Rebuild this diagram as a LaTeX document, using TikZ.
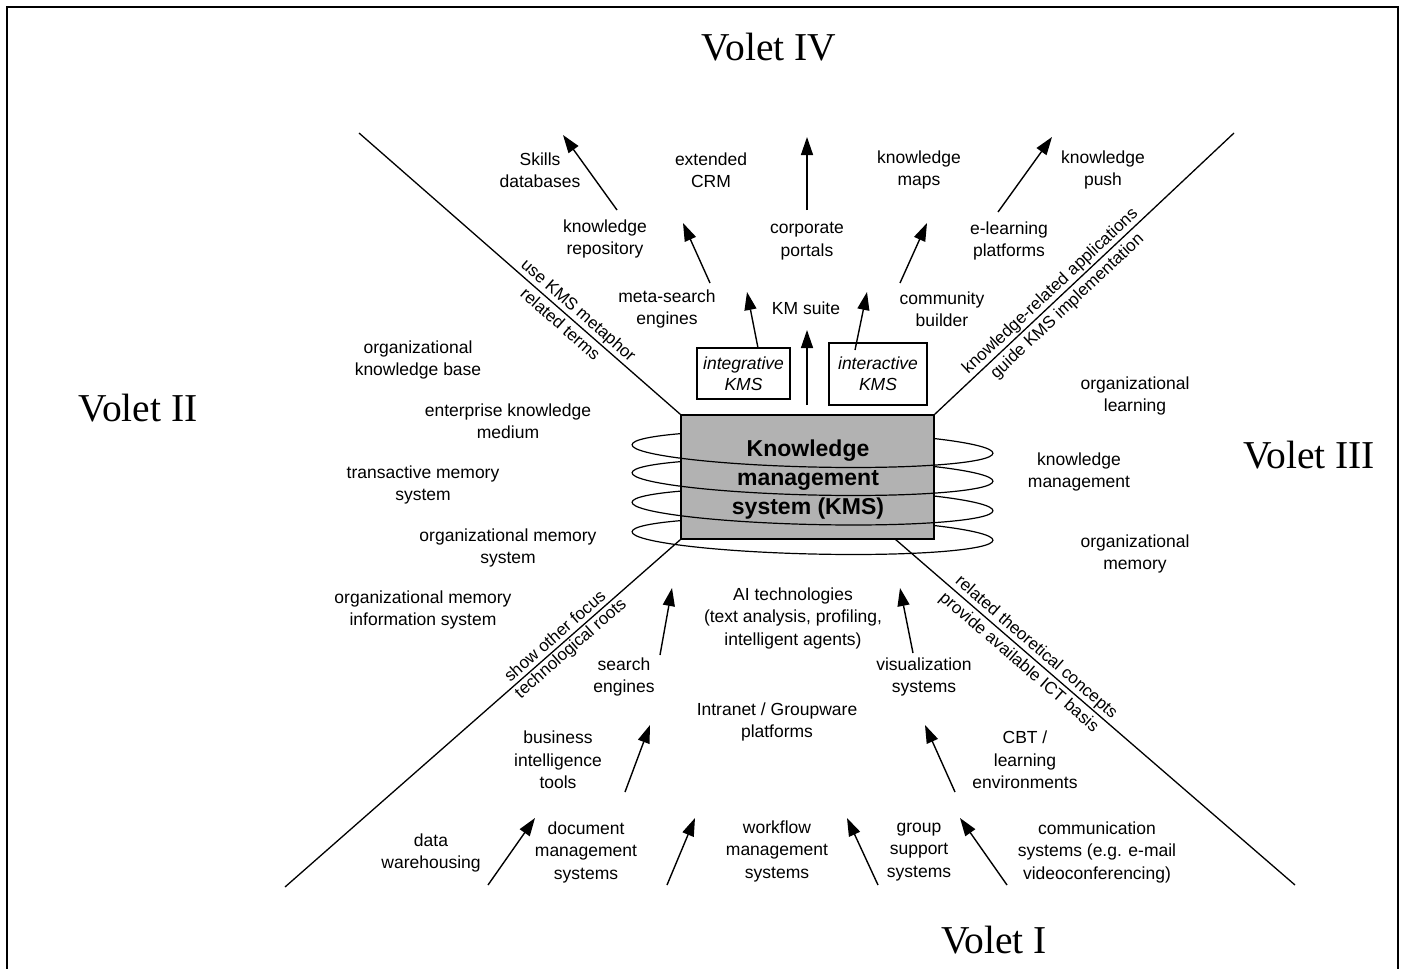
\documentclass[tikz,border=0pt]{standalone}
\usepackage{fontspec}
\setmainfont{Liberation Sans}
\newfontfamily\voletfont{Liberation Serif}
\usetikzlibrary{arrows.meta}
\begin{document}
\begin{tikzpicture}[x=1pt,y=-1pt,
  lbl/.style={font=\fontsize{17.5}{22.5}\selectfont, align=center, inner sep=0pt},
  volet/.style={font=\voletfont\fontsize{39.5}{44}\selectfont, inner sep=0pt},
  axisline/.style={line width=1.3pt},
  axislbl/.style={font=\fontsize{17}{20}\selectfont, sloped, inner sep=1.5pt},
  axislblb/.style={axislbl, inner sep=4pt},
  flow/.style={line width=1.4pt, -{Triangle[length=18pt,width=12pt]}},
  kmsbox/.style={draw, line width=1.4pt, font=\itshape\fontsize{17.5}{21}\selectfont,
    align=center, inner sep=0pt},
  kmsmain/.style={draw, line width=1.4pt, fill=black!30,
    minimum width=253pt, minimum height=124pt, inner sep=0pt},
  kmstext/.style={align=center, font=\bfseries\fontsize{23}{29}\selectfont, inner sep=0pt},
  coil/.style={line width=1.2pt},
]
\useasboundingbox (0,0) rectangle (1403,969);

% open frame
\coordinate (fbl) at (7,975);
\coordinate (ftl) at (7,7);
\coordinate (ftr) at (1398,7);
\coordinate (fbr) at (1398,975);
\draw[line width=2.6pt] (fbl) -- (ftl) -- (ftr) -- (fbr);

% the four quadrant titles
\node[volet] (v4) at (769,47) {Volet IV};
\node[volet] (v2) at (138,408) {Volet II};
\node[volet] (v3) at (1309,455) {Volet III};
\node[volet] (v1) at (994,940) {Volet I};

% coil loops (back parts are later hidden by the box)
\foreach \cy in {449,477,506.5,536} {
  \draw[coil, rotate around={-1.35:(812.5,\cy)}] (812.5,\cy) ellipse [x radius=180.5, y radius=18];
}

% central system
\node[kmsmain] (kms) at (807.5,477) {};
\node[kmstext] (kmstxt) at (808,480) {Knowledge\\management\\system (KMS)};

% front parts of the loops, drawn over the box
\begin{scope}
  \clip (kms.south west) rectangle (kms.north east);
  \foreach \cy in {449,477,506.5,536} {
    \begin{scope}[rotate around={-1.35:(812.5,\cy)}]
      \clip (600,\cy) rectangle (1020,\cy+40);
      \draw[coil] (812.5,\cy) ellipse [x radius=180.5, y radius=18];
    \end{scope}
  }
\end{scope}

% diagonal separators with their captions
\coordinate (ulEnd) at (359,133);
\coordinate (urEnd) at (1234,133);
\coordinate (llEnd) at (285,887);
\coordinate (lrEnd) at (1295,885);
\coordinate (lrStart) at (895,539);

\draw[axisline] (ulEnd) -- (kms.north west)
  node[axislbl, above, pos=0.66] (ulA) {use KMS metaphor}
  node[axislblb, below, pos=0.65] (ulB) {related terms};
\draw[axisline] (kms.north east) -- (urEnd)
  node[axislbl, above, pos=0.41] (urA) {knowledge-related applications}
  node[axislblb, below, pos=0.415] (urB) {guide KMS implementation};
\draw[axisline] (llEnd) -- (kms.south west)
  node[axislblb, above, pos=0.70] (llA) {show other focus}
  node[axislbl, below, pos=0.707] (llB) {technological roots};
\draw[axisline] (lrStart) -- (lrEnd)
  node[axislbl, above, pos=0.336] (lrA) {related theoretical concepts}
  node[axislblb, below, pos=0.33] (lrB) {provide available ICT basis};

% upper part: applications
\node[lbl] (sk) at (540,170) {Skills\\databases};
\node[lbl] (crm) at (711,170) {extended\\CRM};
\node[lbl] (kmap) at (919,170) {knowledge\\maps};
\node[lbl] (kpush) at (1103,170) {knowledge\\push};
\node[lbl] (krep) at (605,239) {knowledge\\repository};
\node[lbl] (cport) at (807,241) {corporate\\portals};
\node[lbl] (elearn) at (1009,241) {e-learning\\platforms};
\node[lbl] (msearch) at (667,309) {meta-search\\engines};
\node[lbl] (kmsuite) at (806,308) {KM suite};
\node[lbl] (commb) at (942,309) {community\\builder};
\node[kmsbox, minimum width=93pt, minimum height=51pt] (integ) at (743.5,373.5) {integrative\\KMS};
\node[kmsbox, minimum width=98pt, minimum height=62pt] (inter) at (878,374) {interactive\\KMS};

% left part: related terms
\node[lbl] (okb) at (418,360) {organizational\\knowledge base};
\node[lbl] (ekm) at (508,421) {enterprise knowledge\\medium};
\node[lbl] (tms) at (423,485) {transactive memory\\system};
\node[lbl] (oms) at (508,548) {organizational memory\\system};
\node[lbl] (omis) at (423,610) {organizational memory\\information system};

% right part: theoretical concepts
\node[lbl] (ol) at (1135,396) {organizational\\learning};
\node[lbl] (km) at (1079,472) {knowledge\\management};
\node[lbl] (om) at (1135,554) {organizational\\memory};

% lower part: technological roots
\node[lbl] (ai) at (793,618) {AI technologies\\(text analysis, profiling,\\intelligent agents)};
\node[lbl] (vis) at (924,677) {visualization\\systems};
\node[lbl] (intra) at (777,722) {Intranet / Groupware\\platforms};
\node[lbl] (cbt) at (1025,760) {CBT /\\learning\\environments};
\node[lbl] (wf) at (777,851) {workflow\\management\\systems};
\node[lbl] (gss) at (919,852) {group\\support\\systems};
\node[lbl] (comm) at (1097,852) {communication\\systems (e.g. e-mail\\videoconferencing)};
\node[lbl] (se) at (624,677) {search\\engines};
\node[lbl] (bi) at (558,760) {business\\intelligence\\tools};
\node[lbl] (dw) at (431,853) {data\\warehousing};
\node[lbl] (dms) at (586,852) {document\\management\\systems};

% arrow end points
\coordinate (t1) at (617,210);  \coordinate (h1) at (563,135);
\coordinate (t2) at (710,283);  \coordinate (h2) at (683,223);
\coordinate (t3) at (807,210);  \coordinate (h3) at (807,137);
\coordinate (t4) at (900,283);  \coordinate (h4) at (927,223);
\coordinate (t5) at (998,212);  \coordinate (h5) at (1052,137);
\coordinate (t6) at (758,348);  \coordinate (h6) at (747,292);
\coordinate (t7) at (807,405);  \coordinate (h7) at (807,330);
\coordinate (t8) at (855,350);  \coordinate (h8) at (867,292);
\coordinate (t9) at (660,655);  \coordinate (h9) at (672,588);
\coordinate (t10) at (625,792); \coordinate (h10) at (650,725);
\coordinate (t11) at (488,885); \coordinate (h11) at (535,818);
\coordinate (t12) at (667,885); \coordinate (h12) at (695,818);
\coordinate (t13) at (878,885); \coordinate (h13) at (847,818);
\coordinate (t14) at (1007,885); \coordinate (h14) at (960,818);
\coordinate (t15) at (955,792); \coordinate (h15) at (925,725);
\coordinate (t16) at (913,653); \coordinate (h16) at (900,588);

\foreach \i in {1,...,16} {
  \draw[flow] (t\i) -- (h\i);
}
\end{tikzpicture}
\end{document}
